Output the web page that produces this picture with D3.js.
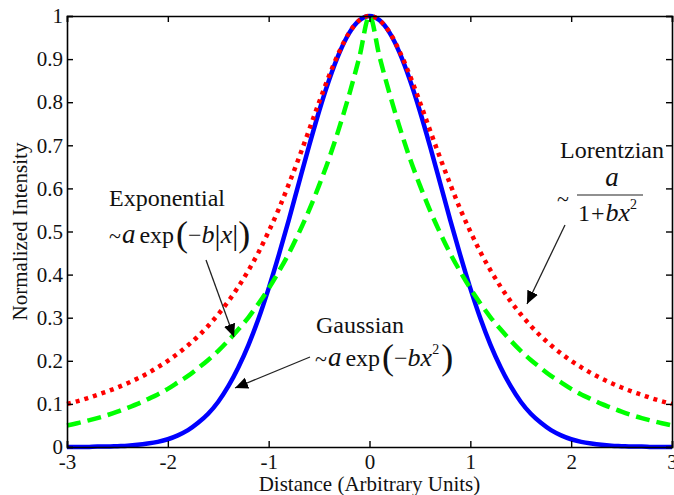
<!DOCTYPE html>
<html><head><meta charset="utf-8">
<script src="https://cdn.jsdelivr.net/npm/d3@7"></script>
<style>body{margin:0;background:#fff}svg{display:block}</style>
</head><body><svg id="c" width="674" height="495"></svg>
<script>
const xValues = [-3.0,-2.9,-2.8,-2.7,-2.6,-2.5,-2.4,-2.3,-2.2,-2.1,-2.0,-1.9,-1.8,-1.7,-1.6,-1.5,-1.4,-1.3,-1.2,-1.1,-1.0,-0.9,-0.8,-0.7,-0.6,-0.5,-0.4,-0.3,-0.2,-0.1,0.0,0.1,0.2,0.3,0.4,0.5,0.6,0.7,0.8,0.9,1.0,1.1,1.2,1.3,1.4,1.5,1.6,1.7,1.8,1.9,2.0,2.1,2.2,2.3,2.4,2.5,2.6,2.7,2.8,2.9,3.0];
const gaussian = [0.000,0.000,0.000,0.001,0.001,0.002,0.003,0.005,0.008,0.012,0.018,0.027,0.039,0.056,0.077,0.105,0.141,0.185,0.237,0.298,0.368,0.445,0.527,0.613,0.698,0.779,0.852,0.914,0.961,0.990,1.000,0.990,0.961,0.914,0.852,0.779,0.698,0.613,0.527,0.445,0.368,0.298,0.237,0.185,0.141,0.105,0.077,0.056,0.039,0.027,0.018,0.012,0.008,0.005,0.003,0.002,0.001,0.001,0.000,0.000,0.000];
const lorentzian = [0.100,0.106,0.113,0.121,0.129,0.138,0.148,0.159,0.171,0.185,0.200,0.217,0.236,0.257,0.281,0.308,0.338,0.372,0.410,0.452,0.500,0.552,0.610,0.671,0.735,0.800,0.862,0.917,0.962,0.990,1.000,0.990,0.962,0.917,0.862,0.800,0.735,0.671,0.610,0.552,0.500,0.452,0.410,0.372,0.338,0.308,0.281,0.257,0.236,0.217,0.200,0.185,0.171,0.159,0.148,0.138,0.129,0.121,0.113,0.106,0.100];
const exponential = [0.050,0.055,0.061,0.067,0.074,0.082,0.091,0.100,0.111,0.122,0.135,0.150,0.165,0.183,0.202,0.223,0.247,0.273,0.301,0.333,0.368,0.407,0.449,0.497,0.549,0.607,0.670,0.741,0.819,0.905,1.000,0.905,0.819,0.741,0.670,0.607,0.549,0.497,0.449,0.407,0.368,0.333,0.301,0.273,0.247,0.223,0.202,0.183,0.165,0.150,0.135,0.122,0.111,0.100,0.091,0.082,0.074,0.067,0.061,0.055,0.050];
const xTicks = [-3,-2,-1,0,1,2,3];
const yTicks = [0,0.1,0.2,0.3,0.4,0.5,0.6,0.7,0.8,0.9,1];
const xTitle = "Distance (Arbitrary Units)";
const yTitle = "Normalized Intensity";

const FONT = "Liberation Serif";
const INK = "#111";
const svg = d3.select("#c");
const L = 67, R = 672, T = 16, B = 447;
const x = d3.scaleLinear().domain([-3,3]).range([L,R]);
const y = d3.scaleLinear().domain([0,1]).range([B,T]);

const defs = svg.append("defs");
defs.append("marker").attr("id","ah").attr("viewBox","0 0 10 10").attr("refX",10).attr("refY",5)
  .attr("markerWidth",13).attr("markerHeight",13).attr("markerUnits","userSpaceOnUse").attr("orient","auto")
  .append("path").attr("d","M0,0.5 L10,5 L0,9.5 Z").attr("fill","#000");

// curves
const series = [
  {vals: gaussian, color:"#0000ff", dash:null},
  {vals: exponential, color:"#00ff00", dash:"14,7"},
  {vals: lorentzian, color:"#ff0000", dash:"4,5"}
];
const line = d3.line().curve(d3.curveMonotoneX);
series.forEach(s => {
  svg.append("path")
    .attr("d", line(xValues.map((v,i)=>[x(v), y(s.vals[i])])))
    .attr("fill","none").attr("stroke",s.color).attr("stroke-width",4.5)
    .attr("stroke-dasharray",s.dash);
});

// axes
const tl = 6;
const bottomAxis = d3.axisBottom(x).tickValues(xTicks).tickSize(-tl).tickPadding(7).tickFormat(d=> d<0 ? "-"+Math.abs(d) : String(d));
const topAxis = d3.axisTop(x).tickValues(xTicks).tickSize(-tl).tickFormat("");
const leftAxis = d3.axisLeft(y).tickValues(yTicks).tickSize(-tl).tickPadding(4).tickFormat(d=> d===0?"0":d===1?"1":d3.format(".1f")(d));
const rightAxis = d3.axisRight(y).tickValues(yTicks).tickSize(-tl).tickFormat("");
function style(g){
  g.attr("font-family",FONT);
  g.select(".domain").attr("stroke","#000").attr("stroke-width",1.6);
  g.selectAll(".tick line").attr("stroke","#000").attr("stroke-width",1.4);
  g.selectAll("text").attr("font-family",FONT).attr("font-size",21).attr("fill",INK);
}
svg.append("g").attr("transform",`translate(0,${B})`).call(bottomAxis).call(style);
svg.append("g").attr("transform",`translate(0,${T})`).call(topAxis).call(style);
svg.append("g").attr("transform",`translate(${L},0)`).call(leftAxis).call(style);
svg.append("g").attr("transform",`translate(${R},0)`).call(rightAxis).call(style);

function txt(xp, yp, s, size){
  return svg.append("text").attr("x",xp).attr("y",yp).attr("font-family",FONT).attr("font-size",size).attr("fill",INK).text(s);
}
// axis titles
txt((L+R)/2, 491, xTitle, 21).attr("text-anchor","middle");
svg.append("text").attr("transform",`translate(27,${(T+B)/2}) rotate(-90)`).attr("text-anchor","middle")
  .attr("font-family",FONT).attr("font-size",21).attr("fill",INK).text(yTitle);

// annotations
function formula(xp, yp, parts){
  const t = svg.append("text").attr("x",xp).attr("y",yp).attr("font-family",FONT).attr("font-size",24).attr("fill",INK);
  parts.forEach(p=>{
    const s = t.append("tspan").attr("font-family",FONT).text(p.t);
    if(p.i) s.attr("font-style","italic");
    if(p.s) s.attr("font-size",p.s);
    if(p.dy) s.attr("dy",p.dy);
    if(p.dx) s.attr("dx",p.dx);
  });
  return t;
}
// Exponential
txt(109, 206, "Exponential", 24);
formula(109,243,[{t:"~",s:22},{t:"a",i:1,s:27,dx:1},{t:"exp",dx:4},{t:"(",s:36,dx:2,dy:3},{t:"\u2212",s:24,dy:-3},{t:"b",i:1,s:26},{t:"|",s:30,dy:2},{t:"x",i:1,s:26,dy:-2},{t:"|",s:30,dy:2},{t:")",s:36,dy:1}]);
svg.append("line").attr("x1",206).attr("y1",260).attr("x2",234).attr("y2",337).attr("stroke","#222").attr("stroke-width",1.3).attr("marker-end","url(#ah)");

// Gaussian
txt(316, 333, "Gaussian", 24);
formula(315,366,[{t:"~",s:22},{t:"a",i:1,s:27,dx:1},{t:"exp",dx:4},{t:"(",s:36,dx:2,dy:3},{t:"\u2212",s:24,dy:-3},{t:"b",i:1,s:26},{t:"x",i:1,s:26},{t:"2",s:14,dy:-12},{t:")",s:36,dx:2,dy:15}]);
svg.append("line").attr("x1",310).attr("y1",357).attr("x2",235).attr("y2",388).attr("stroke","#222").attr("stroke-width",1.3).attr("marker-end","url(#ah)");

// Lorentzian
txt(560, 158, "Lorentzian", 24);
txt(557, 206, "~", 22);
txt(612, 186, "a", 27).attr("text-anchor","middle").attr("font-style","italic");
svg.append("line").attr("x1",577).attr("x2",643).attr("y1",195).attr("y2",195).attr("stroke","#222").attr("stroke-width",1.2);
formula(578,221,[{t:"1"},{t:"+",dx:1},{t:"b",i:1,s:26,dx:1},{t:"x",i:1,s:26},{t:"2",s:14,dy:-12}]);
svg.append("line").attr("x1",565).attr("y1",225).attr("x2",527).attr("y2",304).attr("stroke","#222").attr("stroke-width",1.3).attr("marker-end","url(#ah)");
</script></body></html>
